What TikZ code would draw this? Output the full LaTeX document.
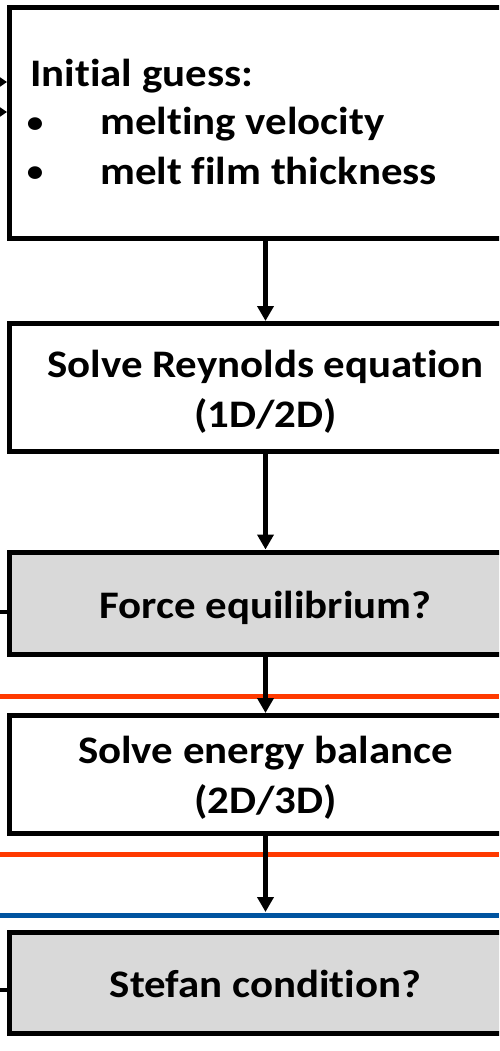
\documentclass[tikz,border=0pt]{standalone}
\usepackage{fontspec}
\setmainfont{Carlito}[FakeStretch=1.1, Ligatures=NoCommon]
\usetikzlibrary{arrows.meta}
\definecolor{boxgray}{HTML}{D9D9D9}
\definecolor{redline}{RGB}{255,58,0}
\definecolor{blueline}{RGB}{0,84,160}
\newcommand{\mybullet}{\makebox[10pt]{\raisebox{2pt}{\fontsize{30}{30}\selectfont •}}\hspace{60pt}}
\tikzset{
  flowbox/.style={draw=black, line width=5pt, fill=white, rectangle, minimum width=512pt, inner sep=0pt},
  graybox/.style={flowbox, fill=boxgray},
  txt/.style={inner sep=0pt, font=\fontsize{39}{47}\selectfont\bfseries},
  arr/.style={line width=4.5pt, -{Triangle[width=16pt,length=15pt]}},
  smallarr/.style={line width=3pt, -{Triangle[width=9pt,length=7pt]}},
  stub/.style={line width=4pt},
  sepred/.style={draw=redline, line width=4.5pt},
  sepblue/.style={draw=blueline, line width=4.5pt}
}
\begin{document}
\begin{tikzpicture}[x=1pt,y=-1pt]
\useasboundingbox (0,0) rectangle (499,1051);
\clip (0,0) rectangle (499,1051);
% boxes
\node[flowbox, minimum height=230pt] (guess) at (265.5,123) {};
\node[flowbox, minimum height=128pt] (reyn) at (265.5,387.5) {};
\node[graybox, minimum height=102pt] (force) at (265.5,603) {};
\node[flowbox, minimum height=117.5pt] (energy) at (265.5,774.25) {};
\node[graybox, minimum height=100.5pt] (stefan) at (265.5,982.75) {};
% labels
\node[txt, anchor=base west] (g0) at (30,87) {Initial guess:};
\node[txt, anchor=base west] (g1) at (30,135) {\mybullet melting velocity};
\node[txt, anchor=base west] (g2) at (30,184) {\mybullet melt film thickness};
\node[txt, anchor=base] (r0) at (265.5,377) {Solve Reynolds equation};
\node[txt, anchor=base] (r1) at (265.5,427) {(1D/2D)};
\node[txt, anchor=base] (f0) at (265.5,618) {Force equilibrium?};
\node[txt, anchor=base] (e0) at (265.5,763) {Solve energy balance};
\node[txt, anchor=base] (e1) at (265.5,813) {(2D/3D)};
\node[txt, anchor=base] (s0) at (265.5,997) {Stefan condition?};
% coordinates
\coordinate (ax) at (265.5,0);
\coordinate (in1) at (0,82);
\coordinate (in2) at (0,112);
\coordinate (st3) at (0,612);
\coordinate (st5) at (0,990);
\coordinate (r1L) at (0,696.5);
\coordinate (r1R) at (499,696.5);
\coordinate (r2L) at (0,854.5);
\coordinate (r2R) at (499,854.5);
\coordinate (bL) at (0,915.5);
\coordinate (bR) at (499,915.5);
\coordinate (bend) at (265.5,912);
% separator lines
\draw[sepred] (r1L) -- (r1R);
\draw[sepred] (r2L) -- (r2R);
\draw[sepblue] (bL) -- (bR);
% arrows
\draw[arr] (guess.south -| ax) -- (reyn.north -| ax);
\draw[arr] (reyn.south -| ax) -- (force.north -| ax);
\draw[arr] (force.south -| ax) -- (energy.north -| ax);
\draw[arr] (energy.south -| ax) -- (bend);
% incoming arrows and stubs on the left
\draw[smallarr] (in1) -- (in1 -| guess.west);
\draw[smallarr] (in2) -- (in2 -| guess.west);
\draw[stub] (st3) -- (st3 -| force.west);
\draw[stub] (st5) -- (st5 -| stefan.west);
\end{tikzpicture}
\end{document}
